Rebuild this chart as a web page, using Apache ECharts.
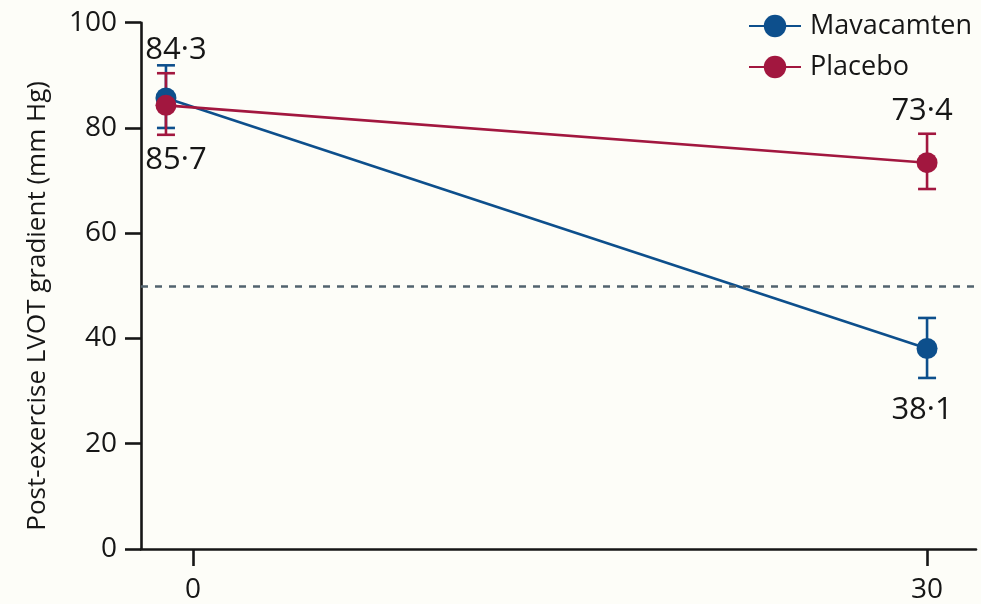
<!DOCTYPE html>
<html>
<head>
<meta charset="utf-8">
<script src="https://cdn.jsdelivr.net/npm/echarts@6/dist/echarts.min.js"></script>
<style>
  html, body { margin: 0; padding: 0; background: #fdfdf8; }
  #chart { width: 981px; height: 604px; }
</style>
</head>
<body>
<div id="chart"></div>
<script>
// Post-exercise LVOT gradient, baseline vs week 30
const xTickValues = [0, 30];
const timePoints = [-1.1, 30];          // baseline marker sits just left of the 0 tick
const mavaMean = [85.7, 38.1];
const mavaLow = [80.0, 32.5];
const mavaHigh = [91.9, 43.9];
const placeboMean = [84.3, 73.4];
const placeboLow = [78.7, 68.4];
const placeboHigh = [90.4, 78.9];
const thresholdValue = 50;
const yTicks = [0, 20, 40, 60, 80, 100];

// horizontal nudge (px) of the value labels at each time point
const labelNudgeX = [10, -5];

const BLUE = '#0d4f8c';
const RED = '#a2173f';
const INK = '#161616';
const FONT = '"Open Sans", "Noto Sans", sans-serif';
const WEIGHT = 500;

function fmt(v) {
  return v.toFixed(1).replace('.', '\u00b7');
}

// Whiskers, caps and the value label (placed beyond the top or bottom whisker)
function errorSeries(name, xs, lows, highs, means, color, side) {
  const data = xs.map((x, i) => [x, lows[i], highs[i], means[i]]);
  return {
    type: 'custom',
    name: name + ' CI',
    data: data,
    encode: { x: 0, y: [1, 2] },
    renderItem: function (params, api) {
      const x = api.value(0);
      const lo = api.coord([x, api.value(1)]);
      const hi = api.coord([x, api.value(2)]);
      const half = 9;
      const style = { stroke: color, lineWidth: 2.6 };
      const labelPt = side === 'top' ? hi : lo;
      const off = side === 'top' ? -23 : 32;
      return {
        type: 'group',
        children: [
          { type: 'line', shape: { x1: hi[0], y1: hi[1], x2: lo[0], y2: lo[1] }, style: style },
          { type: 'line', shape: { x1: hi[0] - half, y1: hi[1], x2: hi[0] + half, y2: hi[1] }, style: style },
          { type: 'line', shape: { x1: lo[0] - half, y1: lo[1], x2: lo[0] + half, y2: lo[1] }, style: style },
          {
            type: 'text',
            x: labelPt[0] + labelNudgeX[params.dataIndex],
            y: labelPt[1] + off,
            style: {
              text: fmt(api.value(3)),
              fill: INK,
              font: WEIGHT + ' 31px ' + FONT,
              align: 'center',
              verticalAlign: 'middle'
            }
          }
        ]
      };
    },
    z: 2
  };
}

function meanSeries(name, xs, means, color, extra) {
  return Object.assign({
    type: 'line',
    name: name,
    data: xs.map((x, i) => [x, means[i]]),
    symbol: 'circle',
    symbolSize: 21,
    lineStyle: { color: color, width: 2.6 },
    itemStyle: { color: color },
    emphasis: { disabled: true },
    z: 3
  }, extra || {});
}

const chart = echarts.init(document.getElementById('chart'), null, { renderer: 'canvas' });

chart.setOption({
  backgroundColor: '#fdfdf8',
  animation: false,
  textStyle: { fontFamily: FONT, color: INK, fontWeight: WEIGHT },
  grid: { left: 141, right: 5, top: 22.7, bottom: 54.7, containLabel: false },
  legend: {
    data: ['Mavacamten', 'Placebo'],
    orient: 'vertical',
    left: 743,
    top: 7,
    itemWidth: 52,
    itemHeight: 28,
    itemGap: 13,
    textStyle: {
      fontSize: 27, color: INK, fontFamily: FONT, fontWeight: WEIGHT, lineHeight: 28,
      padding: [0, 0, 0, 4]
    }
  },
  xAxis: {
    type: 'value',
    min: -2.12,
    max: 32,
    splitLine: { show: false },
    axisLine: { show: true, onZero: false, lineStyle: { color: INK, width: 2.6 } },
    axisTick: { show: true, length: 17, customValues: xTickValues, lineStyle: { color: INK, width: 2.6 } },
    axisLabel: { customValues: xTickValues, fontSize: 28, color: INK, margin: 27, fontFamily: FONT, fontWeight: WEIGHT }
  },
  yAxis: {
    type: 'value',
    min: 0,
    max: 100,
    interval: 20,
    name: 'Post-exercise LVOT gradient (mm Hg)',
    nameLocation: 'middle',
    nameRotate: 90,
    nameGap: 90,
    nameTextStyle: { fontSize: 26, color: INK, fontFamily: FONT, fontWeight: WEIGHT, padding: [0, 40, 0, 0] },
    splitLine: { show: false },
    axisLine: { show: true, onZero: false, lineStyle: { color: INK, width: 2.6 } },
    axisTick: { show: true, length: 16, lineStyle: { color: INK, width: 2.6 } },
    axisLabel: {
      fontSize: 28, color: INK, margin: 24, fontFamily: FONT, fontWeight: WEIGHT,
      formatter: v => (yTicks.indexOf(v) >= 0 ? String(v) : '')
    }
  },
  series: [
    errorSeries('Mavacamten', timePoints, mavaLow, mavaHigh, mavaMean, BLUE, 'bottom'),
    meanSeries('Mavacamten', timePoints, mavaMean, BLUE, {
      markLine: {
        silent: true,
        symbol: ['none', 'none'],
        label: { show: false },
        lineStyle: { color: '#52636e', width: 2.6, type: [7, 7] },
        data: [{ yAxis: thresholdValue }]
      }
    }),
    errorSeries('Placebo', timePoints, placeboLow, placeboHigh, placeboMean, RED, 'top'),
    meanSeries('Placebo', timePoints, placeboMean, RED)
  ]
});
</script>
</body>
</html>
